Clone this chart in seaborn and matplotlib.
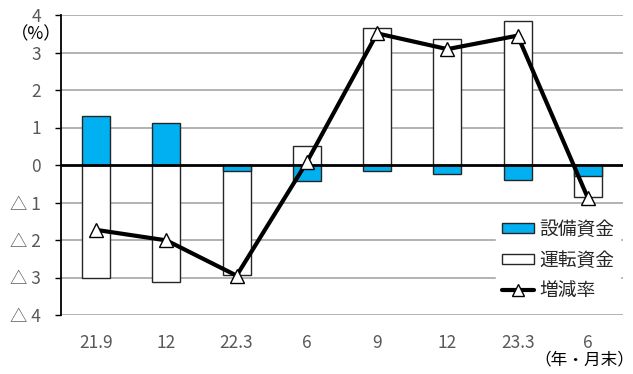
import numpy as np
import pandas as pd
import matplotlib
matplotlib.use("Agg")
import matplotlib.pyplot as plt
from matplotlib.patches import Patch
from matplotlib.lines import Line2D
import seaborn as sns

# Period labels (year.month end)
periods = ["21.9", "12", "22.3", "6", "9", "12", "23.3", "6"]
# Contribution of equipment funds (%pt)
equipment = [1.30, 1.13, -0.17, -0.43, -0.17, -0.24, -0.40, -0.29]
# Contribution of working capital funds (%pt)
working = [-3.00, -3.13, -2.77, 0.51, 3.66, 3.35, 3.85, -0.56]
# Year-on-year change of total lending (%)
rate = [-1.73, -2.01, -2.95, 0.08, 3.51, 3.09, 3.45, -0.88]

y_ticks = [4, 3, 2, 1, 0, -1, -2, -3, -4]
y_labels = ["4", "3", "2", "1", "0", "△ 1", "△ 2", "△ 3", "△ 4"]

sns.set_theme(style="white")
plt.rcParams["font.family"] = ["Noto Sans CJK JP", "DejaVu Sans"]

pos = np.arange(len(periods))
# Working capital stacks on top of equipment when both share a sign
stack_top = [w + (e if np.sign(e) == np.sign(w) else 0) for e, w in zip(equipment, working)]
df = pd.DataFrame({"pos": pos, "period": periods, "equip": equipment,
                   "work_top": stack_top, "rate": rate})

fig = plt.figure(figsize=(6.33, 3.74), dpi=100)
ax = fig.add_axes([61 / 633, 1 - 315 / 374, 562 / 633, 300 / 374])

bar_w = 0.4
sns.barplot(data=df, x="pos", y="work_top", color="white", width=bar_w,
            edgecolor="#262626", linewidth=1.0, saturation=1, ax=ax, zorder=2,
            order=list(pos))
sns.barplot(data=df, x="pos", y="equip", color="#00B0F0", width=bar_w,
            edgecolor="#262626", linewidth=1.0, saturation=1, ax=ax, zorder=3,
            order=list(pos))
sns.lineplot(data=df, x="pos", y="rate", color="black", linewidth=3.0,
             marker="^", markersize=10, markerfacecolor="white",
             markeredgecolor="black", markeredgewidth=1.0, ax=ax, zorder=5)

ax.set_xlim(-0.5, len(periods) - 0.5)
ax.set_ylim(-4, 4)
ax.set_yticks(y_ticks)
ax.set_yticklabels(y_labels, color="#595959", fontsize=12.5)
ax.set_xticks(pos)
ax.set_xticklabels(periods, color="#595959", fontsize=12.5)
ax.set_xlabel("")
ax.set_ylabel("")

for y in y_ticks:
    if y != 0:
        ax.axhline(y, color="#A6A6A6", linewidth=1.2, zorder=1)
ax.axhline(0, color="black", linewidth=2.0, zorder=4)

for side in ["top", "right", "bottom"]:
    ax.spines[side].set_visible(False)
ax.spines["left"].set_color("black")
ax.spines["left"].set_linewidth(1.3)
ax.tick_params(axis="y", which="major", left=True, length=4.3, width=1.0,
               color="black", pad=10)
ax.tick_params(axis="x", bottom=False, pad=8)

fig.text(36 / 633, 1 - 34 / 374, "（%）", ha="center", va="center",
         fontsize=12.5, color="black")
fig.text(584 / 633, 1 - 360 / 374, "（年・月末）", ha="center", va="center",
         fontsize=12, color="black")

handles = [
    Patch(facecolor="#00B0F0", edgecolor="#262626", linewidth=1.0, label="設備資金"),
    Patch(facecolor="white", edgecolor="#262626", linewidth=1.0, label="運転資金"),
    Line2D([0], [0], color="black", linewidth=3.0, marker="^", markersize=9,
           markerfacecolor="white", markeredgecolor="black", label="増減率"),
]
leg = ax.legend(handles=handles, loc="center left",
                bbox_to_anchor=(496 / 633, 1 - 260 / 374),
                bbox_transform=fig.transFigure, borderaxespad=0,
                frameon=True, fancybox=False, framealpha=1, edgecolor="white",
                facecolor="white", fontsize=13.5, handlelength=1.75, handleheight=0.45,
                handletextpad=0.25, labelspacing=0.5, borderpad=0.3)
leg.set_zorder(6)
for t in leg.get_texts():
    t.set_color("#262626")

fig.savefig("out.png", dpi=100)
